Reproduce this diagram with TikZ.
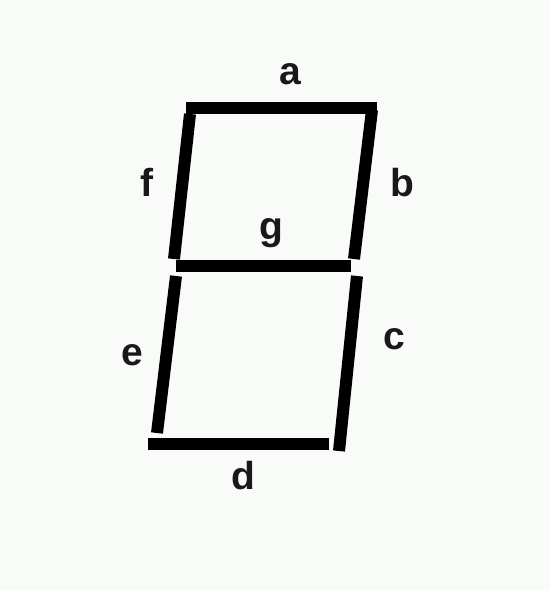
\documentclass[tikz,border=0pt]{standalone}
\usepackage{fontspec}
\setmainfont{Liberation Sans}
\definecolor{bg}{RGB}{249,251,249}
\begin{document}
\begin{tikzpicture}[x=1pt,y=-1pt,
  seg/.style={line width=12pt,line cap=butt,black},
  lbl/.style={font=\fontsize{39}{39}\selectfont\bfseries,inner sep=0pt,text=black!90}]
\fill[bg] (0,0) rectangle (550,591);
\useasboundingbox (0,0) rectangle (550,591);
% endpoints
\coordinate (a1) at (186,108); \coordinate (a2) at (377,108);
\coordinate (b1) at (372,110); \coordinate (b2) at (354,259);
\coordinate (f1) at (190,114); \coordinate (f2) at (174,259);
\coordinate (g1) at (176,266); \coordinate (g2) at (351,266);
\coordinate (e1) at (176,276); \coordinate (e2) at (157,433);
\coordinate (c1) at (357,276); \coordinate (c2) at (339,451);
\coordinate (d1) at (148,444); \coordinate (d2) at (329,444);
\draw[seg] (a1) -- (a2);
\draw[seg] (b1) -- (b2);
\draw[seg] (f1) -- (f2);
\draw[seg] (g1) -- (g2);
\draw[seg] (e1) -- (e2);
\draw[seg] (c1) -- (c2);
\draw[seg] (d1) -- (d2);
\node[lbl] (la) at (290,74) {a};
\node[lbl] (lb) at (402,183) {b};
\node[lbl] (lf) at (147,182) {f};
\node[lbl] (lg) at (271,233) {g};
\node[lbl] (le) at (132,355) {e};
\node[lbl] (lc) at (394,339) {c};
\node[lbl] (ld) at (243,476) {d};
\end{tikzpicture}
\end{document}
